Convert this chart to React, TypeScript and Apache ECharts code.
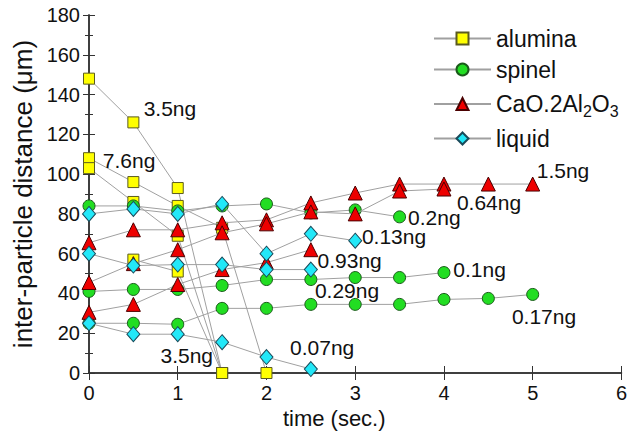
import React, { useEffect, useRef } from "react";
import * as echarts from "echarts";

// ---- data (time in sec, inter-particle distance in µm) ----
const alumina1 = [[0, 148], [0.5, 126], [1, 93], [1.5, 0]];
const alumina2 = [[0, 108], [0.5, 96], [1, 84], [1.5, 73], [2, 0]];
const alumina3 = [[0, 103], [0.5, 86], [1, 69], [1.5, 0]];
const alumina4 = [[0.5, 57], [1, 51], [1.5, 0]];

const spinel1 = [[0, 84], [0.5, 84], [1, 81.5], [1.5, 84], [2, 85], [2.5, 80.5], [3, 82], [3.5, 78.5]];
const spinel2 = [[0, 41], [0.5, 42], [1, 42], [1.5, 44], [2, 47], [2.5, 47], [3, 48], [3.5, 48], [4, 50.5]];
const spinel3 = [[0, 25], [0.5, 25], [1, 24.5], [1.5, 32.5], [2, 32.5], [2.5, 34.5], [3, 34.5], [3.5, 34.5], [4, 37], [4.5, 37.5], [5, 39.5]];

const cao1 = [[0, 65.5], [0.5, 72], [1, 72], [1.5, 75.5], [2, 77], [2.5, 85.5], [3, 90.5], [3.5, 95], [4, 95], [4.5, 95], [5, 95]];
const cao2 = [[0, 45.5], [0.5, 55], [1, 62], [1.5, 70.5], [2, 75], [2.5, 81], [3, 80], [3.5, 91.5], [4, 92.5]];
const cao3 = [[0, 30.5], [0.5, 34.5], [1, 44.5], [1.5, 52], [2, 55.5], [2.5, 62]];

const liquid1 = [[0, 80], [0.5, 82.5], [1, 80], [1.5, 85], [2, 60], [2.5, 70], [3, 66.5]];
const liquid2 = [[0, 60], [0.5, 54], [1, 54.5], [1.5, 54.5], [2, 52], [2.5, 52]];
const liquid3 = [[0, 25], [0.5, 19.5], [1, 19.5], [1.5, 15.5], [2, 8], [2.5, 2]];

// annotation labels: [time, distance, text] (text left edge / vertical centre)
const annotations: [number, number, string][] = [
  [0.61, 133, "3.5ng"],
  [0.15, 107, "7.6ng"],
  [0.8, 9, "3.5ng"],
  [5.04, 102, "1.5ng"],
  [4.14, 85.5, "0.64ng"],
  [3.59, 78, "0.2ng"],
  [3.07, 68.4, "0.13ng"],
  [2.57, 56.8, "0.93ng"],
  [2.54, 41.7, "0.29ng"],
  [2.26, 12.6, "0.07ng"],
  [4.1, 51.8, "0.1ng"],
  [4.76, 28.2, "0.17ng"],
];

const xTicks = { min: 0, max: 6, interval: 1 };
const yTicks = { min: 0, max: 180, interval: 20 };

const FONT = "'Liberation Sans', Arial, Helvetica, sans-serif";
const LINE_COLOR = "#a0a0a0";
const TEXT = "#111";

const styles: Record<string, any> = {
  alumina: { symbol: "rect", symbolSize: 11, color: "#ffff00", border: "#5a5a20" },
  spinel: { symbol: "circle", symbolSize: 12, color: "#22dd22", border: "#1a5a1a" },
  "CaO.2Al2O3": { symbol: "triangle", symbolSize: 14, color: "#ee0000", border: "#4a0000" },
  liquid: { symbol: "diamond", symbolSize: [13, 15], color: "#22e8f8", border: "#1a4a5a" },
};

const groups: [string, number[][][]][] = [
  ["alumina", [alumina1, alumina2, alumina3, alumina4]],
  ["spinel", [spinel1, spinel2, spinel3]],
  ["CaO.2Al2O3", [cao1, cao2, cao3]],
  ["liquid", [liquid1, liquid2, liquid3]],
];

export default function App() {
  const ref = useRef<HTMLDivElement>(null);
  useEffect(() => {
    if (!ref.current) return;
    const chart = echarts.init(ref.current, undefined, { renderer: "svg" });

    const series: any[] = [];
    groups.forEach(([name, list], gi) => {
      const st = styles[name];
      list.forEach((data) => {
        series.push({
          type: "line",
          name,
          data,
          z: 2 + gi,
          symbol: st.symbol,
          symbolSize: st.symbolSize,
          showAllSymbol: true,
          lineStyle: { color: LINE_COLOR, width: 1 },
          itemStyle: { color: st.color, borderColor: st.border, borderWidth: 1 },
          emphasis: { disabled: true },
        });
      });
    });

    series.push({
      type: "scatter",
      name: "labels",
      data: annotations.map(([t, v, txt]) => ({ value: [t, v], name: txt })),
      symbolSize: 1,
      itemStyle: { color: "rgba(255,255,255,0)" },
      z: 10,
      label: {
        show: true,
        position: "right",
        distance: 0,
        formatter: "{b}",
        fontSize: 21,
        fontFamily: FONT,
        color: TEXT,
        opacity: 1,
        textBorderWidth: 0,
      },
      silent: true,
    });

    const axisLine = { show: true, lineStyle: { color: "#333", width: 1.5 } };

    chart.setOption({
      animation: false,
      backgroundColor: "#fff",
      grid: { left: 89, right: 8, top: 15, bottom: 65, containLabel: false },
      legend: {
        data: ["alumina", "spinel", "CaO.2Al2O3", "liquid"],
        orient: "vertical",
        left: 428,
        top: 22,
        itemWidth: 57,
        itemHeight: 15,
        itemGap: 8,
        textStyle: {
          fontSize: 23,
          lineHeight: 22,
          fontFamily: FONT,
          color: TEXT,
          rich: {
            m: { fontSize: 23, lineHeight: 22, fontFamily: FONT, color: TEXT },
            s: { fontSize: 16, lineHeight: 14, padding: [14, 0, 0, 0], fontFamily: FONT, color: TEXT },
          },
        },
        formatter: (n: string) => (n === "CaO.2Al2O3" ? "{m|CaO.2Al}{s|2}{m|O}{s|3}" : n),
        selectedMode: false,
      },
      xAxis: [
        {
          type: "value",
          ...xTicks,
          position: "bottom",
          name: "time (sec.)",
          nameLocation: "middle",
          nameGap: 33,
          nameTextStyle: { fontSize: 22, fontFamily: FONT, color: TEXT, padding: [0, 42, 0, 0] },
          axisLine,
          axisTick: { show: true, inside: true, length: 7, lineStyle: { color: "#333" } },
          axisLabel: { fontSize: 20, fontFamily: FONT, color: TEXT, margin: 10 },
          splitLine: { show: false },
        },
        {
          type: "value",
          ...xTicks,
          position: "top",
          axisLine,
          axisTick: { show: true, inside: true, length: 7, lineStyle: { color: "#333" } },
          axisLabel: { show: false },
          splitLine: { show: false },
        },
      ],
      yAxis: [
        {
          type: "value",
          ...yTicks,
          position: "left",
          name: "inter-particle distance (μm)",
          nameLocation: "middle",
          nameGap: 53,
          nameTextStyle: { fontSize: 26, fontFamily: FONT, color: TEXT },
          axisLine,
          axisTick: { show: true, inside: true, length: 6, lineStyle: { color: "#333" } },
          minorTick: { show: true, splitNumber: 2, length: 4, lineStyle: { color: "#333" } },
          axisLabel: { fontSize: 20, fontFamily: FONT, color: TEXT, margin: 9 },
          splitLine: { show: false },
        },
        {
          type: "value",
          ...yTicks,
          position: "right",
          axisLine,
          axisTick: { show: true, inside: true, length: 6, lineStyle: { color: "#333" } },
          minorTick: { show: true, splitNumber: 2, length: 4, lineStyle: { color: "#333" } },
          axisLabel: { show: false },
          splitLine: { show: false },
        },
      ],
      series,
    });
    return () => chart.dispose();
  }, []);
  return (
    <div
      ref={ref}
      style={{ position: "fixed", left: 0, top: 0, width: 630, height: 438, background: "#fff" }}
    />
  );
}
